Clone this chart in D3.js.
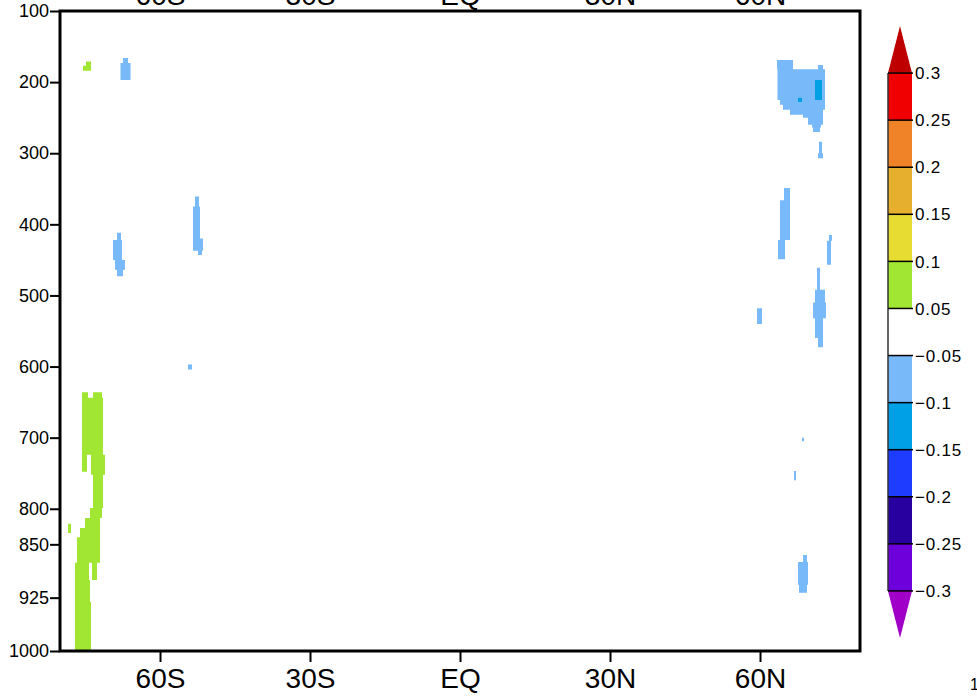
<!DOCTYPE html>
<html>
<head>
<meta charset="utf-8">
<script src="https://cdn.jsdelivr.net/npm/d3@7"></script>
<style>
  body { margin: 0; background: #fff; }
  svg { display: block; }
  text { font-family: "Liberation Sans", Arial, sans-serif; fill: #000; }
</style>
</head>
<body>
<svg id="chart" width="977" height="696"></svg>
<script>
// pressure levels on the left axis (hPa)
var pLevels = [100, 200, 300, 400, 500, 600, 700, 800, 850, 925, 1000];
// latitude ticks
var latTicks = [-60, -30, 0, 30, 60];
var latLabels = ['60S', '30S', 'EQ', '30N', '60N'];

// shading levels and colours (GrADS style)
var colorLevels = [-0.3, -0.25, -0.2, -0.15, -0.1, -0.05, 0.05, 0.1, 0.15, 0.2, 0.25, 0.3];
var colorFills = [
    'rgb(160,0,200)', 'rgb(110,0,220)', 'rgb(40,0,160)', 'rgb(30,60,255)',
    'rgb(0,160,230)', 'rgb(120,185,250)', '#ffffff', 'rgb(160,230,50)',
    'rgb(230,220,50)', 'rgb(230,175,45)', 'rgb(240,130,40)', 'rgb(240,0,0)', 'rgb(190,0,0)'
];

// shaded grid rows: [pTop, pBottom, latWest, latEast, value]
var southCells = [
    [171, 177, -74.8, -73.8, 0.07],
    [177, 184, -75.4, -73.8, 0.07],
    [636, 644, -75.6, -74.4, 0.07],
    [636, 644, -73.4, -71.6, 0.07],
    [644, 724, -75.6, -71.4, 0.07],
    [724, 748, -75.6, -74.6, 0.07],
    [724, 752, -73.8, -71.0, 0.07],
    [752, 799, -73.4, -71.4, 0.07],
    [799, 813, -74.0, -71.6, 0.07],
    [813, 827, -75.0, -72.0, 0.07],
    [827, 840, -76.0, -72.0, 0.07],
    [840, 876, -76.6, -72.0, 0.07],
    [876, 900, -77.0, -74.2, 0.07],
    [876, 900, -73.6, -72.6, 0.07],
    [900, 931, -77.0, -74.0, 0.07],
    [931, 1000, -77.0, -73.8, 0.07],
    [821, 834, -78.4, -77.8, 0.07],
    [166, 173, -67.4, -66.4, -0.07],
    [173, 197, -67.9, -65.9, -0.07],
    [361, 375, -53.0, -52.2, -0.07],
    [375, 420, -53.4, -52.0, -0.07],
    [420, 437, -53.4, -51.4, -0.07],
    [437, 443, -52.4, -51.6, -0.07],
    [412, 422, -68.6, -67.8, -0.07],
    [422, 450, -69.4, -67.6, -0.07],
    [450, 464, -69.0, -67.0, -0.07],
    [464, 473, -68.6, -67.4, -0.07],
    [597, 604, -54.4, -53.6, -0.07]
];

var northCells = [
    [169, 182, 63.4, 66.6, -0.07],
    [176, 182, 71.6, 72.6, -0.07],
    [182, 225, 63.5, 73.0, -0.07],
    [225, 232, 64.0, 73.0, -0.07],
    [232, 239, 64.6, 73.0, -0.07],
    [239, 246, 66.0, 72.6, -0.07],
    [246, 250, 68.6, 72.6, -0.07],
    [250, 260, 69.6, 72.6, -0.07],
    [260, 264, 70.4, 72.2, -0.07],
    [264, 270, 70.6, 72.0, -0.07],
    [197, 225, 71.0, 72.4, -0.12],
    [222, 228, 67.6, 68.4, -0.12],
    [284, 300, 71.8, 72.4, -0.07],
    [300, 307, 71.6, 72.6, -0.07],
    [349, 366, 64.8, 66.0, -0.07],
    [366, 422, 64.0, 66.0, -0.07],
    [422, 449, 63.6, 65.0, -0.07],
    [415, 423, 73.8, 74.4, -0.07],
    [423, 457, 73.4, 74.2, -0.07],
    [461, 492, 71.4, 72.0, -0.07],
    [492, 510, 71.0, 73.0, -0.07],
    [510, 532, 70.6, 73.2, -0.07],
    [532, 560, 71.0, 72.6, -0.07],
    [560, 573, 71.6, 72.6, -0.07],
    [518, 540, 59.4, 60.4, -0.07],
    [700, 705, 68.4, 68.8, -0.07],
    [747, 760, 66.8, 67.2, -0.07],
    [865, 875, 68.6, 69.4, -0.07],
    [875, 907, 67.6, 69.6, -0.07],
    [907, 918, 67.8, 69.4, -0.07]
];

var svg = d3.select('#chart');
svg.append('rect').attr('width', 977).attr('height', 696).attr('fill', '#fff');

var x = d3.scaleLinear().domain([-80, 80]).range([60, 860]);
var y = d3.scaleLinear().domain([100, 1000]).range([11, 651]);
var color = d3.scaleThreshold().domain(colorLevels).range(colorFills);

// shaded cells: one path per colour class, so touching rows leave no seams
var byColor = d3.group(southCells.concat(northCells), function (d) { return color(d[4]); });
svg.append('g')
    .selectAll('path')
    .data(Array.from(byColor))
    .join('path')
    .attr('fill', function (d) { return d[0]; })
    .attr('d', function (d) {
        var p = d3.path();
        d[1].forEach(function (c) {
            p.rect(x(c[2]), y(c[0]), x(c[3]) - x(c[2]), y(c[1]) - y(c[0]));
        });
        return p.toString();
    });

// left axis
var gLeft = svg.append('g')
    .attr('transform', 'translate(60,0)')
    .call(d3.axisLeft(y).tickValues(pLevels).tickFormat(d3.format('d')).tickSize(10).tickPadding(1));
gLeft.selectAll('text').style('font-size', '18px');

// bottom axis
var gBottom = svg.append('g')
    .attr('transform', 'translate(0,651)')
    .call(d3.axisBottom(x).tickValues(latTicks).tickSize(11)
        .tickFormat(function (d, i) { return latLabels[i]; }));
gBottom.selectAll('text').style('font-size', '28px').attr('y', 37).attr('dy', null);

// top axis (labels only, mostly cut off by the page edge as in the original)
var gTop = svg.append('g')
    .attr('transform', 'translate(0,11)')
    .call(d3.axisTop(x).tickValues(latTicks).tickSize(0)
        .tickFormat(function (d, i) { return latLabels[i]; }));
gTop.selectAll('text').style('font-size', '28px').attr('y', -6).attr('dy', null);

[gLeft, gBottom, gTop].forEach(function (g) {
    g.select('.domain').remove();
    g.selectAll('line').attr('stroke', '#000').attr('stroke-width', 2);
});

// frame
svg.append('rect')
    .attr('x', 60).attr('y', 11).attr('width', 800).attr('height', 640)
    .attr('fill', 'none').attr('stroke', '#000').attr('stroke-width', 3);

// colour bar
var cb = d3.scaleLinear().domain([0, 13]).range([26, 638]);
var cbX0 = 888, cbX1 = 912, cbMid = 900;
var cbColors = colorFills.slice().reverse();
var gcb = svg.append('g');

gcb.selectAll('rect')
    .data(cbColors.slice(1, 12))
    .join('rect')
    .attr('x', cbX0)
    .attr('y', function (d, i) { return cb(i + 1); })
    .attr('width', cbX1 - cbX0)
    .attr('height', function (d, i) { return cb(i + 2) - cb(i + 1); })
    .attr('fill', function (d) { return d; })
    .attr('shape-rendering', 'crispEdges');

// end triangles
gcb.append('path')
    .attr('d', 'M' + cbX0 + ',' + cb(1) + 'L' + cbMid + ',' + cb(0) + 'L' + cbX1 + ',' + cb(1) + 'Z')
    .attr('fill', cbColors[0]);
gcb.append('path')
    .attr('d', 'M' + cbX0 + ',' + cb(12) + 'L' + cbMid + ',' + cb(13) + 'L' + cbX1 + ',' + cb(12) + 'Z')
    .attr('fill', cbColors[12]);

gcb.append('line')
    .attr('x1', cbX0).attr('x2', cbX0)
    .attr('y1', cb(1)).attr('y2', cb(12))
    .attr('stroke', '#333').attr('stroke-width', 1.5);

var cbLevels = colorLevels.slice().reverse();
gcb.selectAll('line.sep')
    .data(cbLevels)
    .join('line')
    .attr('class', 'sep')
    .attr('x1', cbX0).attr('x2', cbX1 + 1)
    .attr('y1', function (d, i) { return cb(i + 1); })
    .attr('y2', function (d, i) { return cb(i + 1); })
    .attr('stroke', '#000').attr('stroke-width', 1.5);

gcb.selectAll('text')
    .data(cbLevels)
    .join('text')
    .attr('x', 915)
    .attr('y', function (d, i) { return cb(i + 1); })
    .attr('dy', '0.36em')
    .style('font-size', '17px')
    .style('letter-spacing', '0.8px')
    .text(function (d) { return String(d).replace('-', '\u2212'); });

// stray label at the bottom right edge
svg.append('text').attr('x', 970).attr('y', 690).style('font-size', '16px').text('1');
</script>
</body>
</html>
